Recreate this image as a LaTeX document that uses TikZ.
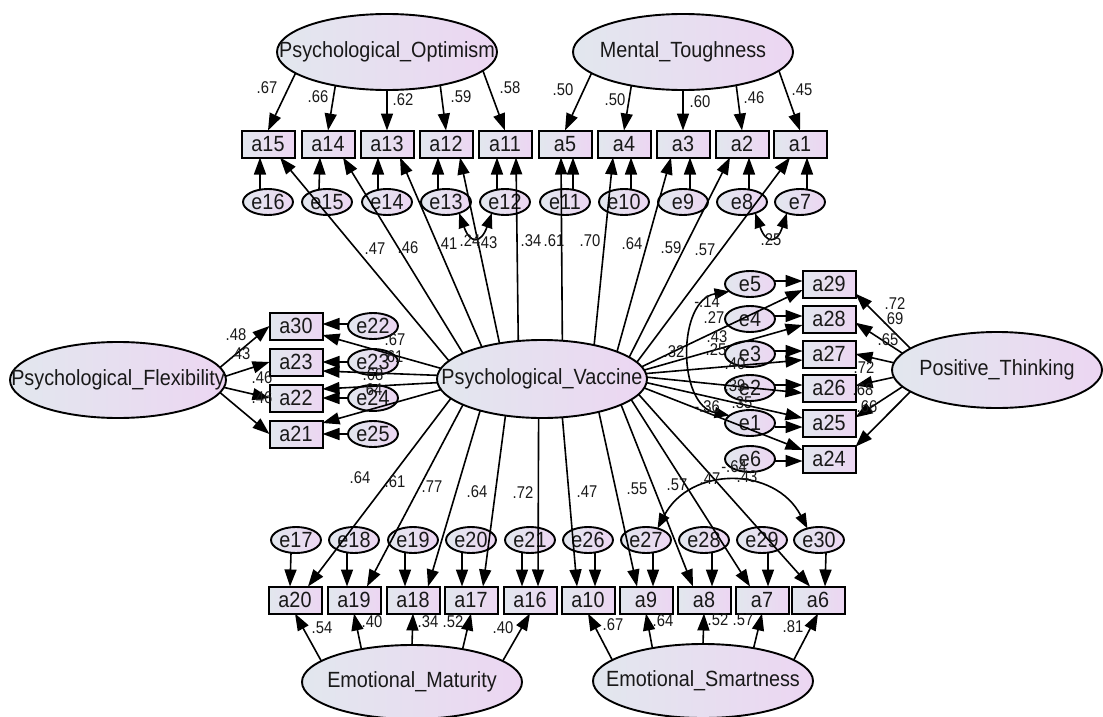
\documentclass[tikz,border=0pt]{standalone}
\usepackage{fontspec}
\setmainfont[FakeStretch=0.9]{Liberation Sans}
\newfontfamily\lblfont[FakeStretch=0.87]{Liberation Sans}
\usetikzlibrary{arrows.meta,shapes.geometric}
\definecolor{cA}{RGB}{226,231,238}
\definecolor{cB}{RGB}{236,214,242}
\definecolor{txt}{RGB}{25,25,25}
\begin{document}
\begin{tikzpicture}[x=1pt,y=-1pt,
  lat/.style={ellipse, draw, line width=1.9pt, left color=cA, right color=cB, inner sep=0pt, outer sep=0pt, minimum width=220pt, minimum height=76pt, font=\fontsize{22}{24}\selectfont, text=txt},
  obs/.style={rectangle, draw, line width=2pt, left color=cA, right color=cB, inner sep=0pt, outer sep=0pt, minimum width=53pt, minimum height=27pt, font=\fontsize{22}{24}\selectfont, text=txt},
  err/.style={ellipse, draw, line width=1.9pt, left color=cA, right color=cB, inner sep=0pt, outer sep=0pt, minimum width=50pt, minimum height=26pt, font=\fontsize{22}{24}\selectfont, text=txt},
  lbl/.style={font=\lblfont\fontsize{17}{19}\selectfont, inner sep=0pt, text=txt},
  arr/.style={-{Triangle[length=17pt,width=12pt]}, line width=1.6pt},
  cov/.style={{Triangle[length=15pt,width=11pt]}-{Triangle[length=15pt,width=11pt]}, line width=1.6pt}]
\fill[white] (0,0) rectangle (1103,717);
\useasboundingbox (0,0) rectangle (1103,717);
% latent variables
\node[lat] (PO) at (387,52) {\makebox[0pt]{Psychological\_Optimism}};
\node[lat] (MT) at (683,52) {\makebox[0pt]{Mental\_Toughness}};
\node[lat, minimum width=216pt] (PF) at (118,380) {\makebox[0pt]{Psychological\_Flexibility}};
\node[lat, minimum width=210pt, minimum height=78pt] (PV) at (542,379) {\makebox[0pt]{Psychological\_Vaccine}};
\node[lat, minimum width=210pt] (PT) at (997,370) {\makebox[0pt]{Positive\_Thinking}};
\node[lat, minimum height=74pt] (EM) at (412,682) {\makebox[0pt]{Emotional\_Maturity}};
\node[lat, minimum height=74pt] (ES) at (703,681) {\makebox[0pt]{Emotional\_Smartness}};
% observed
\foreach \n/\x in {a15/268,a14/328,a13/387,a12/446,a11/505,a5/565,a4/624,a3/683,a2/742,a1/800}
  \node[obs] (\n) at (\x,144) {\n};
\foreach \n/\x in {a20/295,a19/354,a18/413,a17/471,a16/530,a10/588,a9/646,a8/704,a7/762,a6/818}
  \node[obs] (\n) at (\x,600) {\n};
\foreach \n/\y in {a30/326,a23/362,a22/398,a21/434}
  \node[obs] (\n) at (296,\y) {\n};
\foreach \n/\y in {a29/284,a28/319,a27/354,a26/388,a25/423,a24/459}
  \node[obs] (\n) at (829,\y) {\n};
% errors
\foreach \n/\x in {e16/268,e15/327,e14/387,e13/446,e12/505,e11/565,e10/624,e9/683,e8/742,e7/800}
  \node[err] (\n) at (\x,202) {\n};
\foreach \n/\x in {e17/296,e18/354,e19/413,e20/471,e21/530,e26/588,e27/646,e28/704,e29/762,e30/819}
  \node[err] (\n) at (\x,540) {\n};
\foreach \n/\y in {e22/326,e23/362,e24/398,e25/434}
  \node[err] (\n) at (373,\y) {\n};
\foreach \n/\y in {e5/284,e4/319,e3/354,e2/388,e1/423,e6/459}
  \node[err] (\n) at (750,\y) {\n};
% error arrows
\foreach \e/\b/\s in {e16/a15/-8,e15/a14/-8,e14/a13/-9,e13/a12/-8,e12/a11/-8,e11/a5/8,e10/a4/7,e9/a3/7,e8/a2/7,e7/a1/7}
  \draw[arr] ([xshift=\s pt]\e.north) -- ([xshift=\s pt]\b.south);
\foreach \e/\b/\s in {e17/a20/-5,e18/a19/-7,e19/a18/-8,e20/a17/-9,e21/a16/-8,e26/a10/7,e27/a9/7,e28/a8/8,e29/a7/6,e30/a6/7}
  \draw[arr] ([xshift=\s pt]\e.south) -- ([xshift=\s pt]\b.north);
\foreach \e/\b/\s in {e22/a30/2,e23/a23/0,e24/a22/0,e25/a21/0}
  \draw[arr] ([yshift=\s pt]\e.west) -- ([yshift=\s pt]\b.east);
\foreach \e/\b/\s in {e5/a29/3,e4/a28/3,e3/a27/3,e2/a26/3,e1/a25/-4,e6/a24/-2}
  \draw[arr] ([yshift=\s pt]\e.east) -- ([yshift=\s pt]\b.west);
% second-order paths from Psychological_Vaccine
\foreach \b/\a/\s in {a15/169/12,a14/162/15,a13/152/13,a12/140/14,a11/122/11,a5/62/-4,a4/33/-11,a3/20/-12,a2/14/-12,a1/10/-10}
  \draw[arr] (PV.\a) -- ([xshift=\s pt]\b.south);
\foreach \b/\a/\s in {a20/192/13,a19/198/13,a18/207/15,a17/225/12,a16/265/8,a10/298/-11,a9/330/-9,a8/342/-11,a7/347/-12,a6/351/-8}
  \draw[arr] (PV.\a) -- ([xshift=\s pt]\b.north);
\foreach \b/\a/\s in {a30/174/-9,a23/178/-9,a22/182/9,a21/186/11}
  \draw[arr] (PV.\a) -- ([yshift=\s pt]\b.east);
\foreach \b/\a/\s in {a29/7/-6,a28/5/-6,a27/3/-6,a26/1/-5,a25/358/5,a24/355/9}
  \draw[arr] (PV.\a) -- ([yshift=\s pt]\b.west);
% loadings
\foreach \b/\a in {a15/193,a14/213,a13/270,a12/328,a11/349}
  \draw[arr] (PO.\a) -- (\b.north);
\foreach \b/\a in {a5/193,a4/213,a3/270,a2/328,a1/349}
  \draw[arr] (MT.\a) -- (\b.north);
\foreach \b/\a in {a20/167,a19/147,a18/90,a17/33,a16/13}
  \draw[arr] (EM.\a) -- (\b.south);
\foreach \b/\a in {a10/167,a9/147,a8/90,a7/33,a6/13}
  \draw[arr] (ES.\a) -- (\b.south);
\foreach \b/\a in {a30/7,a23/2,a22/356,a21/353}
  \draw[arr] (PF.\a) -- (\b.west);
\foreach \b/\a/\c in {a29/166/-20,a28/170/-8,a27/176/0,a26/184/5,a25/190/12,a24/194/25}
  \draw[arr] (PT.\a) -- (\b.\c);
% covariances
\draw[cov] (e13.-40) .. controls (470,244) and (481,244) .. (e12.220);
\draw[cov] (e8.-40) .. controls (766,244) and (777,244) .. (e7.220);
\draw[cov] (e27.45) .. controls (690,466) and (775,466) .. (e30.135);
\draw[cov] (e5.200) .. controls (677,300) and (677,405) .. (e1.160);
% labels
\foreach \t/\x/\y [count=\i] in {.67/267/88,.66/318/97,.62/403/100,.59/461/97,.58/510/88,
  .50/563/90,.50/615/100,.60/700/102,.46/754/98,.45/802/90,
  .47/375/249,.46/408/248,.41/447/244,.24/470/241,.43/487/243,.34/531/241,.61/554/241,.70/590/241,.64/632/244,.59/671/248,.57/705/250,
  .25/771/240,
  .48/236/335,.43/240/354,.46/262/378,.46/262/398,
  .67/395/340,.61/393/357,.68/373/375,.64/372/390,
  .32/674/352,-.14/707/302,.27/714/318,.43/717/337,.25/716/350,.40/735/364,.39/735/386,.35/742/403,-.36/707/407,
  .72/895/304,.69/893/319,.65/888/340,.72/864/368,.68/863/390,.66/867/407,
  .64/360/478,.61/395/482,.77/432/487,.64/477/492,.72/523/493,.47/587/492,.55/637/489,.57/677/485,.47/710/479,-.64/734/467,.43/747/477,
  .54/322/628,.40/372/622,.34/428/622,.52/453/622,.40/503/628,
  .67/613/625,.64/663/621,.52/718/620,.57/743/620,.81/793/627}
  \node[lbl] (lab\i) at (\x,\y) {\t};
\end{tikzpicture}
\end{document}
